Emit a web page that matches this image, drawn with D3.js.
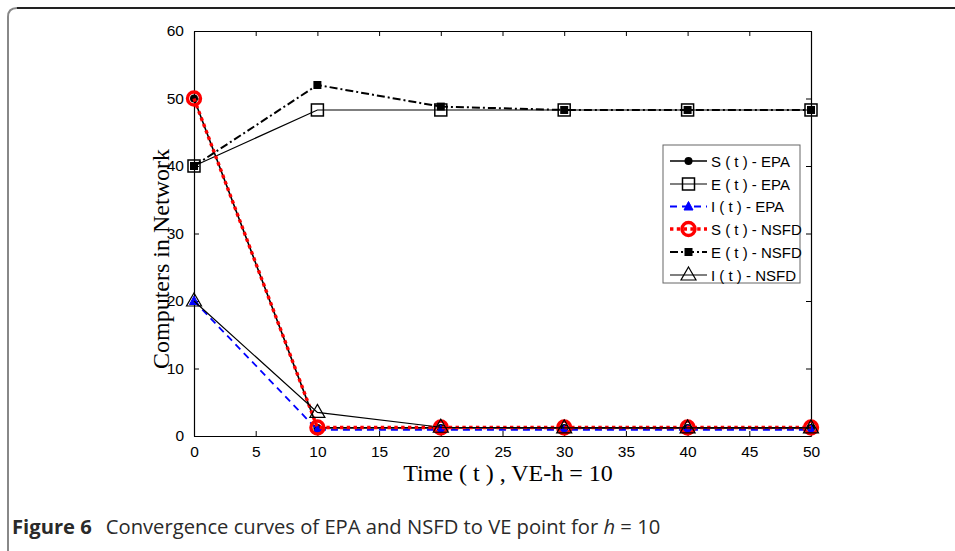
<!DOCTYPE html>
<html>
<head>
<meta charset="utf-8">
<script src="https://cdn.jsdelivr.net/npm/d3@7"></script>
<style>
  html, body { margin: 0; padding: 0; background: #fff; }
  svg { display: block; }
</style>
</head>
<body>
<svg id="chart" width="955" height="551"></svg>
<script>
// Time steps and the compartment values produced by each scheme
const times = [0, 10, 20, 30, 40, 50];
const sEPA  = [50, 1.2, 1.2, 1.2, 1.2, 1.2];
const eEPA  = [40, 48.3, 48.3, 48.3, 48.3, 48.3];
const iEPA  = [20, 0.9, 0.9, 0.9, 0.9, 0.9];
const sNSFD = [50, 1.25, 1.25, 1.25, 1.25, 1.25];
const eNSFD = [40, 52.0, 48.8, 48.3, 48.3, 48.3];
const iNSFD = [20, 3.5, 1.3, 1.2, 1.2, 1.2];

const xTicks = [0, 5, 10, 15, 20, 25, 30, 35, 40, 45, 50];
const yTicks = [0, 10, 20, 30, 40, 50, 60];
const legendLabels = ["S ( t ) - EPA", "E ( t ) - EPA", "I ( t ) - EPA",
                      "S ( t ) - NSFD", "E ( t ) - NSFD", "I ( t ) - NSFD"];

const svg = d3.select("#chart");

// Figure frame (rounded corner, opens to the right and bottom)
svg.append("path")
  .attr("d", "M8,560 L8,17 Q8,8 17,8 L960,8")
  .attr("fill", "none").attr("stroke", "#888").attr("stroke-width", 2);
svg.append("line").attr("x1", 17).attr("x2", 960).attr("y1", 8).attr("y2", 8)
  .attr("stroke", "#222").attr("stroke-width", 2);

const plotL = 194, plotR = 811, plotT = 31, plotB = 436;
const x = d3.scaleLinear().domain([0, 50]).range([plotL, plotR]);
const y = d3.scaleLinear().domain([0, 60]).range([plotB, plotT]);

const tickFont = "'Liberation Sans', Arial, sans-serif";

// Axes on all four sides with inward ticks
const gx = svg.append("g").attr("transform", `translate(0,${plotB})`)
  .call(d3.axisBottom(x).tickValues(xTicks).tickSizeInner(-5).tickSizeOuter(0).tickPadding(10));
const gxt = svg.append("g").attr("transform", `translate(0,${plotT})`)
  .call(d3.axisTop(x).tickValues(xTicks).tickSizeInner(-5).tickSizeOuter(0).tickFormat(""));
const gy = svg.append("g").attr("transform", `translate(${plotL},0)`)
  .call(d3.axisLeft(y).tickValues(yTicks).tickSizeInner(-5).tickSizeOuter(0).tickPadding(10));
const gyr = svg.append("g").attr("transform", `translate(${plotR},0)`)
  .call(d3.axisRight(y).tickValues(yTicks).tickSizeInner(-5).tickSizeOuter(0).tickFormat(""));
[gx, gxt, gy, gyr].forEach(g => {
  g.selectAll("path.domain").attr("stroke", "#000").attr("stroke-width", 1.2);
  g.selectAll(".tick line").attr("stroke", "#000");
  g.selectAll("text").attr("font-family", tickFont).attr("font-size", 15.5)
    .attr("fill", "#000");
});

// Axis titles
svg.append("text")
  .attr("x", 508).attr("y", 481).attr("text-anchor", "middle")
  .attr("font-family", "'Liberation Serif', 'Times New Roman', serif")
  .attr("font-size", 24).text("Time ( t ) , VE-h = 10");
svg.append("text")
  .attr("transform", "translate(169,259) rotate(-90)").attr("text-anchor", "middle")
  .attr("font-family", "'Liberation Serif', 'Times New Roman', serif")
  .attr("font-size", 24).text("Computers in Network");

// Marker symbols
function marker(g, type, cx, cy) {
  if (type === "dot") {
    g.append("circle").attr("cx", cx).attr("cy", cy).attr("r", 4).attr("fill", "#000");
  } else if (type === "openSquare") {
    g.append("rect").attr("x", cx - 6).attr("y", cy - 6).attr("width", 12).attr("height", 12)
      .attr("fill", "none").attr("stroke", "#000").attr("stroke-width", 1.5);
  } else if (type === "blueTri") {
    g.append("path").attr("d", `M${cx},${cy - 5} L${cx + 4.5},${cy + 3.5} L${cx - 4.5},${cy + 3.5} Z`)
      .attr("fill", "#0000ff").attr("stroke", "#0000ff").attr("stroke-width", 1);
  } else if (type === "redCircle") {
    g.append("circle").attr("cx", cx).attr("cy", cy).attr("r", 6.5)
      .attr("fill", "none").attr("stroke", "#ff0000").attr("stroke-width", 3.4);
  } else if (type === "fillSquare") {
    g.append("rect").attr("x", cx - 4).attr("y", cy - 4).attr("width", 8).attr("height", 8)
      .attr("fill", "#000");
  } else if (type === "openTri") {
    g.append("path").attr("d", `M${cx},${cy - 8} L${cx + 7.5},${cy + 5} L${cx - 7.5},${cy + 5} Z`)
      .attr("fill", "none").attr("stroke", "#000").attr("stroke-width", 1.2);
  }
}

const series = [
  { values: sEPA,  color: "#000", width: 1.6, dash: null,        marker: "dot" },
  { values: eEPA,  color: "#000", width: 1.2, dash: null,        marker: "openSquare" },
  { values: iEPA,  color: "#0000ff", width: 1.8, dash: "7,5",   marker: "blueTri" },
  { values: sNSFD, color: "#ff0000", width: 3.4, dash: "3.4,3.4", marker: "redCircle" },
  { values: eNSFD, color: "#000", width: 2, dash: "8,3,2,3",    marker: "fillSquare" },
  { values: iNSFD, color: "#000", width: 1.2, dash: null,        marker: "openTri" }
];

const line = d3.line().x(d => x(d[0])).y(d => y(d[1]));
const plot = svg.append("g");
series.forEach(s => {
  const pts = times.map((t, i) => [t, s.values[i]]);
  const g = plot.append("g");
  g.append("path").attr("d", line(pts)).attr("fill", "none")
    .attr("stroke", s.color).attr("stroke-width", s.width)
    .attr("stroke-dasharray", s.dash);
  pts.forEach(p => marker(g, s.marker, x(p[0]), y(p[1])));
});

// Legend
const lg = svg.append("g");
lg.append("rect").attr("x", 663).attr("y", 145).attr("width", 137).attr("height", 138)
  .attr("fill", "#fff").attr("stroke", "#666").attr("stroke-width", 1);
const rowY = [161, 184, 206.5, 229, 252, 275];
series.forEach((s, i) => {
  const yy = rowY[i];
  lg.append("line").attr("x1", 670).attr("x2", 707).attr("y1", yy).attr("y2", yy)
    .attr("stroke", s.color).attr("stroke-width", s.width).attr("stroke-dasharray", s.dash);
  marker(lg, s.marker, 688.5, yy);
  lg.append("text").attr("x", 711).attr("y", yy + 5.5)
    .attr("font-family", tickFont).attr("font-size", 15).text(legendLabels[i]);
});

// Caption
const cap = svg.append("text").attr("x", 12).attr("y", 534)
  .attr("font-family", "'Open Sans', 'Noto Sans', sans-serif").attr("font-size", 20.2).attr("fill", "#2a2a2a");
cap.append("tspan").attr("font-weight", "bold").text("Figure 6");
cap.append("tspan").attr("dx", 14).text("Convergence curves of EPA and NSFD to VE point for ");
cap.append("tspan").attr("font-style", "italic").text("h");
cap.append("tspan").text(" = 10");
</script>
</body>
</html>
